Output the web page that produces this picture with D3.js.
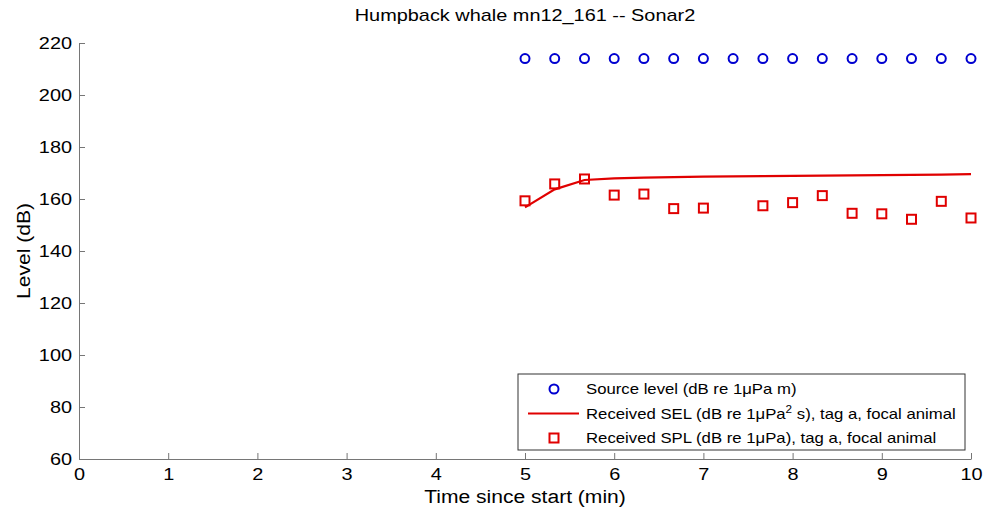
<!DOCTYPE html>
<html>
<head>
<meta charset="utf-8">
<script src="https://cdn.jsdelivr.net/npm/d3@7"></script>
<style>
  body { margin: 0; background: #fff; }
  text { font-family: "Liberation Sans", Arial, sans-serif; }
</style>
</head>
<body>
<svg id="chart" width="989" height="519"></svg>
<script>
// data
const times = [5, 5.333, 5.667, 6, 6.333, 6.667, 7, 7.333, 7.667, 8, 8.333, 8.667, 9, 9.333, 9.667, 10];
const sourceLevel = [214, 214, 214, 214, 214, 214, 214, 214, 214, 214, 214, 214, 214, 214, 214, 214];
const receivedSEL = [156.8, 163.7, 167.3, 167.9, 168.2, 168.4, 168.6, 168.7, 168.8, 168.9, 169.0, 169.1, 169.2, 169.3, 169.4, 169.6];
const receivedSPL = [159.3, 165.8, 167.7, 161.5, 161.9, 156.3, 156.5, null, 157.4, 158.6, 161.3, 154.5, 154.3, 152.2, 159.1, 152.7];
const xTicks = [0, 1, 2, 3, 4, 5, 6, 7, 8, 9, 10];
const yTicks = [60, 80, 100, 120, 140, 160, 180, 200, 220];

const margin = { left: 79, right: 18, top: 43, bottom: 60 };
const width = 989, height = 519;
const stretch = 1.17; // the original text is a bit wide

const svg = d3.select("#chart");
const x = d3.scaleLinear().domain([0, 10]).range([margin.left, width - margin.right]);
const y = d3.scaleLinear().domain([60, 220]).range([height - margin.bottom, margin.top]);

// axes, ticks pointing inwards like matlab
const xAxis = svg.append("g")
    .attr("transform", `translate(0,${y(60)})`)
    .call(d3.axisBottom(x).tickValues(xTicks).tickSizeInner(-6).tickSizeOuter(0).tickPadding(9));
const yAxis = svg.append("g")
    .attr("transform", `translate(${x(0)},0)`)
    .call(d3.axisLeft(y).tickValues(yTicks).tickSizeInner(-6).tickSizeOuter(0).tickPadding(7));

[xAxis, yAxis].forEach(g => {
    g.selectAll("path, line").attr("stroke", "#767676").attr("stroke-width", 1);
    g.selectAll("text").attr("fill", "#000").style("font-size", "17px")
        .style("font-family", "'Liberation Sans', Arial, sans-serif");
});

// title and labels
svg.append("text")
    .attr("x", (x(0) + x(10)) / 2).attr("y", 21)
    .attr("text-anchor", "middle").style("font-size", "17px")
    .text("Humpback whale mn12_161 -- Sonar2");
svg.append("text")
    .attr("x", (x(0) + x(10)) / 2).attr("y", 503)
    .attr("text-anchor", "middle").style("font-size", "18px")
    .text("Time since start (min)");
svg.append("text")
    .attr("transform", `translate(30,${(y(60) + y(220)) / 2}) rotate(-90)`)
    .attr("text-anchor", "middle").style("font-size", "18px")
    .text("Level (dB)");

const blue = "#0000d0", red = "#e00000";

// SEL line
const line = d3.line().x((d, i) => x(times[i])).y(d => y(d));
svg.append("path")
    .datum(receivedSEL)
    .attr("d", line)
    .attr("fill", "none").attr("stroke", red).attr("stroke-width", 2.2);

// source level circles
svg.append("g").selectAll("circle")
    .data(sourceLevel)
    .join("circle")
    .attr("cx", (d, i) => x(times[i]))
    .attr("cy", d => y(d))
    .attr("r", 4.5)
    .attr("fill", "none").attr("stroke", blue).attr("stroke-width", 2);

// SPL squares
const sq = 9;
svg.append("g").selectAll("rect")
    .data(receivedSPL.map((v, i) => ({ t: times[i], v })).filter(d => d.v !== null))
    .join("rect")
    .attr("x", d => x(d.t) - sq / 2)
    .attr("y", d => y(d.v) - sq / 2)
    .attr("width", sq).attr("height", sq)
    .attr("fill", "none").attr("stroke", red).attr("stroke-width", 2);

// legend
const lg = svg.append("g").attr("transform", "translate(518,374)");
lg.append("rect")
    .attr("width", 447).attr("height", 76)
    .attr("fill", "#fff").attr("stroke", "#333").attr("stroke-width", 1);

const items = [
    { type: "circle", label: "Source level (dB re 1\u03bcPa m)" },
    { type: "line", label: "SEL" },
    { type: "square", label: "Received SPL (dB re 1\u03bcPa), tag a, focal animal" }
];
items.forEach((it, i) => {
    const cy = 15 + i * 24.5;
    if (it.type === "circle") {
        lg.append("circle").attr("cx", 36).attr("cy", cy).attr("r", 4.5)
            .attr("fill", "none").attr("stroke", blue).attr("stroke-width", 2);
    } else if (it.type === "line") {
        lg.append("line").attr("x1", 10).attr("x2", 61).attr("y1", cy).attr("y2", cy)
            .attr("stroke", red).attr("stroke-width", 2.2);
    } else {
        lg.append("rect").attr("x", 36 - sq / 2).attr("y", cy - sq / 2)
            .attr("width", sq).attr("height", sq)
            .attr("fill", "none").attr("stroke", red).attr("stroke-width", 2);
    }
    const t = lg.append("text").attr("x", 68).attr("y", cy + 5).style("font-size", "14.3px");
    if (it.type === "line") {
        t.append("tspan").text("Received SEL (dB re 1\u03bcPa");
        t.append("tspan").attr("dy", -6).style("font-size", "10px").text("2");
        t.append("tspan").attr("dy", 6).text(" s), tag a, focal animal");
    } else {
        t.text(it.label);
    }
});

// widen every text a little to match the original rendering
svg.selectAll("text").each(function () {
    if (this.querySelector("tspan")) {
        d3.select(this).selectAll("tspan").each(function () {
            const w = this.getComputedTextLength();
            d3.select(this).attr("textLength", w * stretch).attr("lengthAdjust", "spacingAndGlyphs");
        });
    } else {
        const w = this.getComputedTextLength();
        d3.select(this).attr("textLength", w * stretch).attr("lengthAdjust", "spacingAndGlyphs");
    }
});
</script>
</body>
</html>
